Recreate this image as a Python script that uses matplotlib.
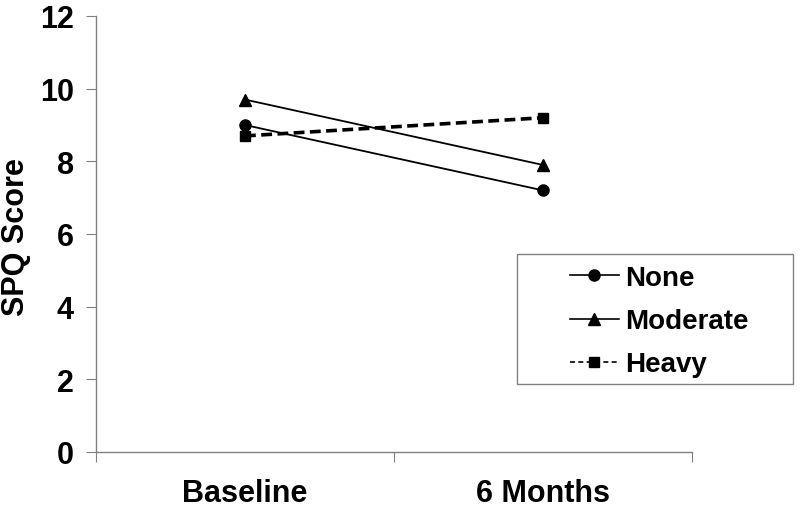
import matplotlib

matplotlib.use("Agg")
import matplotlib.pyplot as plt
from matplotlib.lines import Line2D
from matplotlib.patches import Rectangle
import numpy as np

categories = ["Baseline", "6 Months"]
none_vals = [9.0, 7.2]
moderate_vals = [9.7, 7.9]
heavy_vals = [8.7, 9.2]
y_ticks = [0, 2, 4, 6, 8, 10, 12]

plt.rcParams.update({
    "font.family": ["Liberation Sans", "DejaVu Sans"],
    "font.weight": "bold",
})

W, H = 800, 510
fig = plt.figure(figsize=(W / 100, H / 100), dpi=100)
ax = fig.add_axes([96 / W, 1 - 453 / H, 596 / W, 436 / H])

x = np.arange(len(categories)) + 0.5
ax.plot(x, none_vals, "-o", color="black", lw=1.3, ms=8)
ax.plot(x, moderate_vals, "-^", color="black", lw=1.3, ms=9)
ax.plot(x, heavy_vals, "--s", color="black", lw=2.6, ms=7.5, dashes=(3, 1.5))

ax.set_xlim(0, len(categories))
ax.set_ylim(0, 12)
ax.set_yticks(y_ticks)
ax.set_yticklabels([str(t) for t in y_ticks], fontsize=22, fontweight="bold")
ax.set_xticks(np.arange(len(categories) + 1))
ax.set_xticklabels([])
ax.set_xticks(x, minor=True)
ax.set_xticklabels(categories, minor=True, fontsize=22, fontweight="bold")
ax.tick_params(axis="x", which="minor", length=0, pad=19)
ax.tick_params(axis="x", which="major", length=7, direction="out", color="#808080")
ax.tick_params(axis="y", length=7, direction="out", color="#808080", pad=9)

fig.text(16 / W, 1 - 237 / H, "SPQ Score", rotation=90, ha="center", va="center",
         fontsize=22, fontweight="bold")

for s in ["top", "right"]:
    ax.spines[s].set_visible(False)
for s in ["left", "bottom"]:
    ax.spines[s].set_color("#808080")
    ax.spines[s].set_linewidth(1)

# legend frame as in the reference (wide box, entries indented)
fig.patches.append(Rectangle((517 / W, 1 - 385 / H), 276 / W, 130 / H,
                             transform=fig.transFigure, fill=False,
                             edgecolor="#808080", lw=1))

handles = [
    Line2D([], [], color="black", lw=1.2, marker="o", ms=8),
    Line2D([], [], color="black", lw=1.2, marker="^", ms=9),
    Line2D([], [], color="black", lw=1.2, marker="s", ms=7.5, ls="--", dashes=(3, 2)),
]
fig.legend(
    handles,
    ["None", "Moderate", "Heavy"],
    loc="upper left",
    bbox_to_anchor=(570 / W, 1 - 266 / H),
    frameon=False,
    prop={"weight": "bold", "size": 20},
    handlelength=1.75,
    handletextpad=0.25,
    borderpad=0,
    labelspacing=0.62,
    borderaxespad=0,
)

fig.savefig("out.png", dpi=100, facecolor="white")
